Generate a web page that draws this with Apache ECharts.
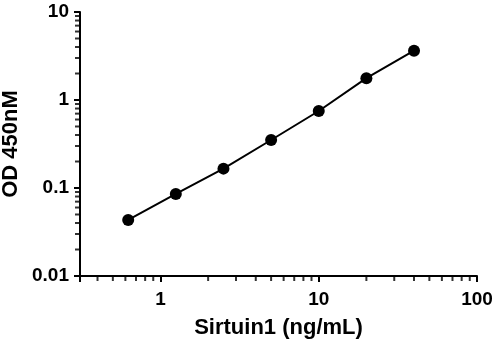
<!DOCTYPE html>
<html>
<head>
<meta charset="utf-8">
<script src="https://cdn.jsdelivr.net/npm/echarts@6/dist/echarts.min.js"></script>
<style>
html, body { margin: 0; padding: 0; background: #fff; }
#chart_od { width: 500px; height: 343px; }
</style>
</head>
<body>
<div id="chart_od"></div>
<script>
// 标准曲线数据
var conc_list = [0.625, 1.25, 2.5, 5, 10, 20, 40];
var od_list = [0.0433, 0.0855, 0.166, 0.351, 0.75, 1.77, 3.63];
var x_ticks = [1, 10, 100];
var y_ticks = [0.01, 0.1, 1, 10];
var x_min = 0.31, x_max = 100;
var y_min = 0.01, y_max = 10;

var myChart = echarts.init(document.getElementById('chart_od'));

var points = [];
for (var i = 0; i < conc_list.length; i++) {
    points.push([conc_list[i], od_list[i]]);
}

// 对数轴次刻度 2..9
function minorValues(lo, hi) {
    var list = [];
    var d = Math.pow(10, Math.floor(Math.log(lo) / Math.LN10 + 1e-9));
    for (; d < hi; d *= 10) {
        for (var k = 2; k <= 9; k++) {
            var v = k * d;
            if (v > lo * 1.0001 && v < hi * 0.9999) list.push(v);
        }
    }
    return list;
}
var x_minor = [], y_minor = [];
var xm = minorValues(x_min, x_max), ym = minorValues(y_min, y_max);
for (var i = 0; i < xm.length; i++) x_minor.push([xm[i], y_min]);
for (var i = 0; i < ym.length; i++) y_minor.push([x_min, ym[i]]);

function tickLabel(list) {
    return function (v) {
        for (var i = 0; i < list.length; i++) {
            if (Math.abs(v - list[i]) / list[i] < 1e-6) {
                return String(list[i]);
            }
        }
        return '';
    };
}

var font = 'Liberation Sans, Arial, sans-serif';

var option = {
    animation: false,
    grid: {
        left: 80,
        right: 23,
        top: 12,
        bottom: 67,
        outerBoundsMode: 'none'
    },
    xAxis: {
        type: 'log',
        min: x_min,
        max: x_max,
        name: 'Sirtuin1 (ng/mL)',
        nameLocation: 'middle',
        nameGap: 41,
        nameMoveOverlap: false,
        nameTextStyle: { color: '#000', fontSize: 22, fontWeight: 'bold', fontFamily: font },
        axisLine: { lineStyle: { color: '#000', width: 2 } },
        axisTick: { inside: false, length: 6, lineStyle: { color: '#000', width: 2 } },
        splitLine: { show: false },
        axisLabel: {
            color: '#000', fontSize: 19, fontWeight: 'bold', fontFamily: font,
            margin: 14, formatter: tickLabel(x_ticks)
        }
    },
    yAxis: {
        type: 'log',
        min: y_min,
        max: y_max,
        name: 'OD 450nM',
        nameLocation: 'middle',
        nameGap: 58,
        nameMoveOverlap: false,
        nameTextStyle: { color: '#000', fontSize: 22, fontWeight: 'bold', fontFamily: font },
        axisLine: { show: true, lineStyle: { color: '#000', width: 2 } },
        axisTick: { show: true, inside: false, length: 6, lineStyle: { color: '#000', width: 2 } },
        splitLine: { show: false },
        axisLabel: {
            color: '#000', fontSize: 19, fontWeight: 'bold', fontFamily: font,
            margin: 11, formatter: tickLabel(y_ticks)
        }
    },
    series: [
        {   // x轴次刻度
            type: 'scatter',
            clip: false,
            silent: true,
            data: x_minor,
            symbol: 'rect',
            symbolSize: [2, 4],
            symbolOffset: [0, 3],
            itemStyle: { color: '#000' }
        },
        {   // y轴次刻度
            type: 'scatter',
            clip: false,
            silent: true,
            data: y_minor,
            symbol: 'rect',
            symbolSize: [4, 2],
            symbolOffset: [-3, 0],
            itemStyle: { color: '#000' }
        },
        {
            type: 'line',
            data: points,
            smooth: false,
            symbol: 'circle',
            symbolSize: 12,
            itemStyle: { color: '#000' },
            lineStyle: { color: '#000', width: 2 }
        }
    ]
};
myChart.setOption(option);
</script>
</body>
</html>
